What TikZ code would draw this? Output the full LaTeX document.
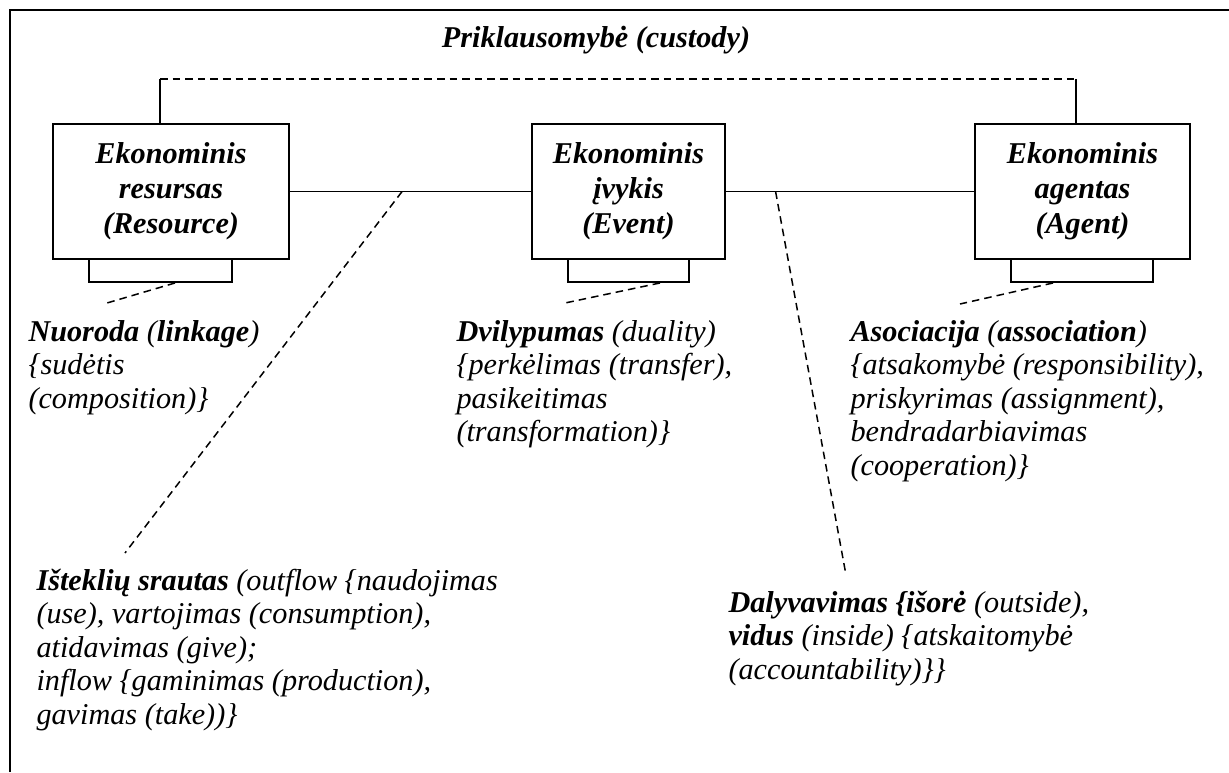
\documentclass[tikz,border=0pt]{standalone}
\usepackage{fontspec}
\setmainfont{Liberation Serif}
\usetikzlibrary{calc}

\begin{document}
\begin{tikzpicture}[x=0.397pt,y=-0.397pt,
  entbox/.style={draw,line width=0.8pt,minimum width=#1,minimum height=53.6pt,
    inner sep=0pt,align=center,font=\fontsize{12}{13.9}\selectfont\bfseries\itshape},
  tabbox/.style={draw,line width=0.8pt,minimum width=#1,minimum height=9.1pt,inner sep=0pt},
  rel/.style={line width=0.6pt},
  dashrel/.style={line width=0.6pt,dash pattern=on 3pt off 2pt},
  note/.style={anchor=base west,inner sep=0pt,align=left,
    font=\fontsize{12}{13.3}\selectfont\itshape}]
\useasboundingbox (0,0) rectangle (1229,772);
\draw[line width=0.8pt] (10,772) -- (10,10) -- (1229,10);
% entities
\node[entbox=93.7pt] (res) at (171,191.5) {Ekonominis\\resursas\\(Resource)};
\node[entbox=76.6pt] (evt) at (628.5,191.5) {Ekonominis\\įvykis\\(Event)};
\node[entbox=85.4pt] (agt) at (1082.5,191.5) {Ekonominis\\agentas\\(Agent)};
\node[tabbox=56.8pt] (restab) at (160.5,270.5) {};
\node[tabbox=48pt] (evttab) at (628.5,270.5) {};
\node[tabbox=56.4pt] (agttab) at (1082,270.5) {};
\draw[rel] (res.east) -- (evt.west);
\draw[rel] (evt.east) -- (agt.west);
% custody
\node[anchor=base,inner sep=0pt,font=\fontsize{12}{13.9}\selectfont\bfseries\itshape]
  (cust) at (596,48) {Priklausomybė (custody)};
\coordinate (custL) at (160,79);
\coordinate (custR) at (1076,79);
\draw[rel] (custL |- res.north) -- (custL);
\draw[dashrel] (custL) -- (custR);
\draw[rel] (custR) -- (custR |- agt.north);
% notes (placed at the baseline of their last line)
\node[note] (linkage) at (28,408)
  {\textbf{Nuoroda} (\textbf{linkage})\\\{sudėtis\\(composition)\}};
\node[note] (duality) at (456,441.5)
  {\textbf{Dvilypumas} (duality)\\\{perkėlimas (transfer),\\pasikeitimas\\(transformation)\}};
\node[note] (assoc) at (850,475)
  {\textbf{Asociacija} (\textbf{association})\\\{atsakomybė (responsibility),\\priskyrimas (assignment),\\bendradarbiavimas\\(cooperation)\}};
\node[note] (flow) at (36,724)
  {\textbf{Išteklių srautas} (outflow \{naudojimas\\(use), vartojimas (consumption),\\atidavimas (give);\\inflow \{gaminimas (production),\\gavimas (take))\}};
\node[note] (part) at (728,679)
  {\textbf{Dalyvavimas \{išorė} (outside),\\\textbf{vidus} (inside) \{atskaitomybė\\(accountability)\}\}};
% dashed pointers
\coordinate (linkageend) at (107,303);
\coordinate (dualityend) at (565,303);
\coordinate (assocend) at (960,304);
\coordinate (flowend) at (125,553);
\coordinate (partend) at (846,575);
\draw[dashrel] ($(restab.south)+(14.5,0)$) -- (linkageend);
\draw[dashrel] ($(evttab.south)+(31.5,0)$) -- (dualityend);
\draw[dashrel] ($(agttab.south)+(-29,0)$) -- (assocend);
\draw[dashrel] ($(res.east)!0.465!(evt.west)$) -- (flowend);
\draw[dashrel] ($(evt.east)!0.2!(agt.west)$) -- (partend);
\end{tikzpicture}
\end{document}
